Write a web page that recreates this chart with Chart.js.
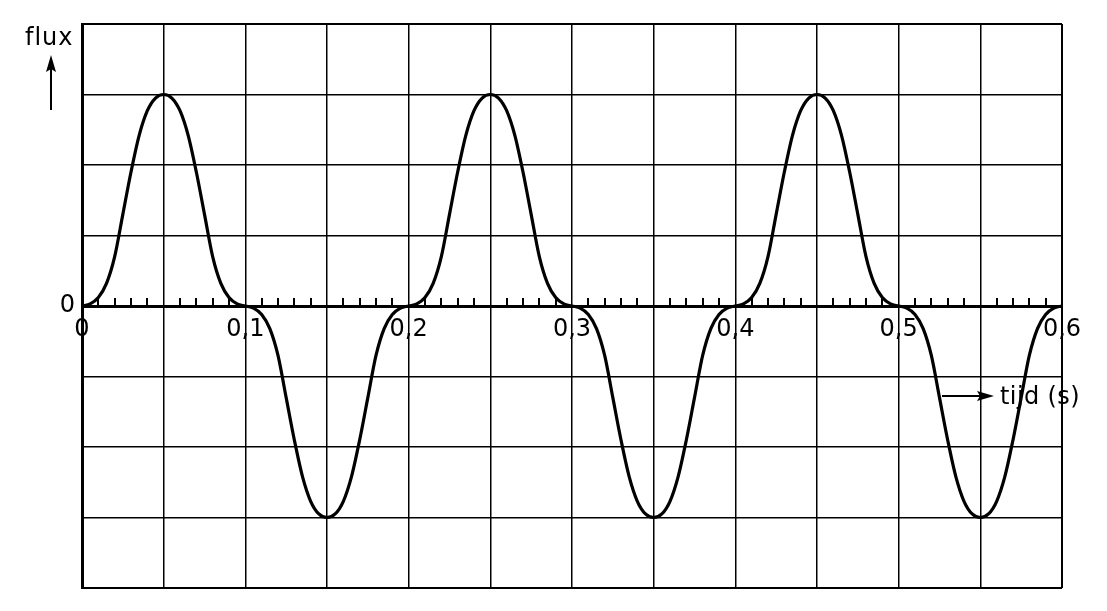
<!DOCTYPE html>
<html>
<head>
<meta charset="utf-8">
<script src="https://cdn.jsdelivr.net/npm/chart.js@4.4.1/dist/chart.umd.min.js"></script>
<style>
  html, body { margin: 0; padding: 0; background: #fff; }
  #wrap { width: 1107px; height: 611px; position: relative; }
</style>
</head>
<body>
<div id="wrap"><canvas id="c"></canvas></div>
<script>
// time values (s)
const tijd = [
  0, 0.005, 0.01, 0.015, 0.02, 0.025, 0.03, 0.035, 0.04, 0.045,
  0.05, 0.055, 0.06, 0.065, 0.07, 0.075, 0.08, 0.085, 0.09, 0.095,
  0.1, 0.105, 0.11, 0.115, 0.12, 0.125, 0.13, 0.135, 0.14, 0.145,
  0.15, 0.155, 0.16, 0.165, 0.17, 0.175, 0.18, 0.185, 0.19, 0.195,
  0.2, 0.205, 0.21, 0.215, 0.22, 0.225, 0.23, 0.235, 0.24, 0.245,
  0.25, 0.255, 0.26, 0.265, 0.27, 0.275, 0.28, 0.285, 0.29, 0.295,
  0.3, 0.305, 0.31, 0.315, 0.32, 0.325, 0.33, 0.335, 0.34, 0.345,
  0.35, 0.355, 0.36, 0.365, 0.37, 0.375, 0.38, 0.385, 0.39, 0.395,
  0.4, 0.405, 0.41, 0.415, 0.42, 0.425, 0.43, 0.435, 0.44, 0.445,
  0.45, 0.455, 0.46, 0.465, 0.47, 0.475, 0.48, 0.485, 0.49, 0.495,
  0.5, 0.505, 0.51, 0.515, 0.52, 0.525, 0.53, 0.535, 0.54, 0.545,
  0.55, 0.555, 0.56, 0.565, 0.57, 0.575, 0.58, 0.585, 0.59, 0.595,
  0.6
];
// flux values (grid units)
const flux = [
  0, 0.03, 0.12, 0.32, 0.7, 1.3, 1.9, 2.42, 2.77, 2.95,
  3, 2.95, 2.77, 2.42, 1.9, 1.3, 0.7, 0.32, 0.12, 0.03,
  0, -0.03, -0.12, -0.32, -0.7, -1.3, -1.9, -2.42, -2.77, -2.95,
  -3, -2.95, -2.77, -2.42, -1.9, -1.3, -0.7, -0.32, -0.12, -0.03,
  0, 0.03, 0.12, 0.32, 0.7, 1.3, 1.9, 2.42, 2.77, 2.95,
  3, 2.95, 2.77, 2.42, 1.9, 1.3, 0.7, 0.32, 0.12, 0.03,
  0, -0.03, -0.12, -0.32, -0.7, -1.3, -1.9, -2.42, -2.77, -2.95,
  -3, -2.95, -2.77, -2.42, -1.9, -1.3, -0.7, -0.32, -0.12, -0.03,
  0, 0.03, 0.12, 0.32, 0.7, 1.3, 1.9, 2.42, 2.77, 2.95,
  3, 2.95, 2.77, 2.42, 1.9, 1.3, 0.7, 0.32, 0.12, 0.03,
  0, -0.03, -0.12, -0.32, -0.7, -1.3, -1.9, -2.42, -2.77, -2.95,
  -3, -2.95, -2.77, -2.42, -1.9, -1.3, -0.7, -0.32, -0.12, -0.03,
  0
];
const xTickLabels = ['0', '0,1', '0,2', '0,3', '0,4', '0,5', '0,6'];
const yTickLabel = '0';
const xAxisTitle = 'tijd (s)';
const yAxisTitle = 'flux';

const FONT = '"DejaVu Sans", sans-serif';

function arrow(ctx, x1, y1, x2, y2) {
  const ang = Math.atan2(y2 - y1, x2 - x1);
  const hl = 17, hw = 5;
  const c = Math.cos(ang), s = Math.sin(ang);
  ctx.beginPath();
  ctx.moveTo(x1, y1);
  ctx.lineTo(x2 - c * (hl - 3), y2 - s * (hl - 3));
  ctx.stroke();
  ctx.beginPath();
  ctx.moveTo(x2, y2);
  ctx.lineTo(x2 - c * hl - s * hw, y2 - s * hl + c * hw);
  ctx.lineTo(x2 - c * (hl - 3), y2 - s * (hl - 3));
  ctx.lineTo(x2 - c * hl + s * hw, y2 - s * hl - c * hw);
  ctx.closePath();
  ctx.fill();
}

const extras = {
  id: 'extras',
  afterDraw(chart) {
    const ctx = chart.ctx;
    const xs = chart.scales.x, ys = chart.scales.y;
    const y0 = ys.getPixelForValue(0);
    ctx.save();
    ctx.strokeStyle = '#000';
    ctx.fillStyle = '#000';
    // minor ticks every 0.01 s above the zero line
    ctx.lineWidth = 2;
    for (let k = 1; k < 60; k++) {
      if (k % 5 === 0) continue;
      const px = Math.round(xs.getPixelForValue(k / 100));
      ctx.beginPath();
      ctx.moveTo(px, y0);
      ctx.lineTo(px, y0 - 8);
      ctx.stroke();
    }
    // axis titles with arrows
    ctx.font = '24px ' + FONT;
    ctx.textBaseline = 'alphabetic';
    ctx.textAlign = 'left';
    try { ctx.letterSpacing = '1px'; } catch (e) {}
    ctx.fillText(yAxisTitle, 25, 45);
    try { ctx.letterSpacing = '0.4px'; } catch (e) {}
    ctx.fillText(xAxisTitle, 1000, 404);
    ctx.lineWidth = 2;
    arrow(ctx, 51, 110, 51, 55);
    arrow(ctx, 942, 396, 994, 396);
    ctx.restore();
  }
};

new Chart(document.getElementById('c'), {
  type: 'line',
  data: {
    datasets: [{
      data: tijd.map((t, i) => ({ x: t, y: flux[i] })),
      borderColor: '#000',
      borderWidth: 3.2,
      pointRadius: 0,
      cubicInterpolationMode: 'monotone',
      fill: false
    }]
  },
  options: {
    responsive: true,
    maintainAspectRatio: false,
    animation: false,
    devicePixelRatio: 1,
    layout: { padding: { left: 0, right: 45, top: 24, bottom: 23 } },
    plugins: { legend: { display: false }, tooltip: { enabled: false } },
    scales: {
      x: {
        type: 'linear',
        position: { y: 0 },
        min: 0, max: 0.6,
        ticks: {
          stepSize: 0.05,
          autoSkip: false,
          maxRotation: 0,
          padding: 9,
          color: '#000',
          font: { family: FONT, size: 24 },
          callback: (v, i) => (i % 2 === 0 ? xTickLabels[i / 2] : '')
        },
        grid: {
          color: '#000',
          drawTicks: false,
          lineWidth: ctx => (ctx.index === 0 || ctx.index === 12 ? 2 : 1.5)
        },
        border: { display: true, color: '#000', width: 3 }
      },
      y: {
        type: 'linear',
        min: -4, max: 4,
        afterFit: s => { s.width = 82; },
        ticks: {
          stepSize: 1,
          padding: 7,
          color: '#000',
          font: { family: FONT, size: 24 },
          callback: v => (v === 0 ? yTickLabel : '')
        },
        grid: {
          color: '#000',
          drawTicks: false,
          lineWidth: ctx => {
            const v = ctx.tick ? ctx.tick.value : null;
            if (v === 0) return 3;
            if (v === 4 || v === -4) return 2;
            return 1.5;
          }
        },
        border: { display: true, color: '#000', width: 3 }
      }
    }
  },
  plugins: [extras]
});
</script>
</body>
</html>
